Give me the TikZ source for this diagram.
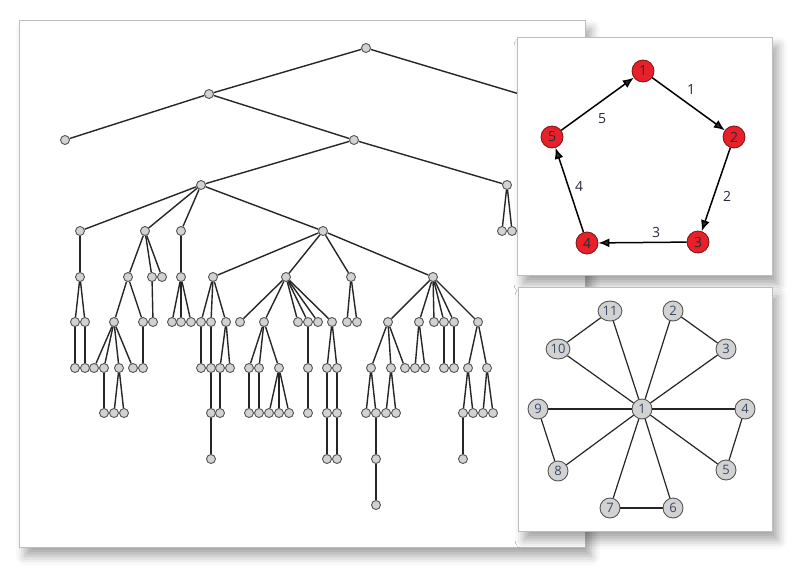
\documentclass[tikz,border=0pt]{standalone}
\usepackage{fontspec}
\newfontfamily\uifont{Open Sans}
\usetikzlibrary{arrows.meta,shadows.blur,shapes.geometric}
\definecolor{nodegray}{HTML}{D2D2D2}
\definecolor{nodeborder}{HTML}{555555}
\definecolor{panelborder}{HTML}{BDBDBD}
\definecolor{redfill}{HTML}{E8202A}
\definecolor{redborder}{HTML}{7A1414}
\definecolor{labeltext}{HTML}{2A2A3A}
\definecolor{startext}{HTML}{3A4A66}
\tikzset{
  panel/.style={draw=panelborder, line width=1pt, fill=white,
    blur shadow={shadow xshift=6pt, shadow yshift=-9pt, shadow blur radius=9pt, shadow opacity=35}},
  tn/.style={circle, draw=nodeborder, fill=nodegray, line width=0.9pt, minimum size=9pt, inner sep=0pt},
  tedge/.style={draw=black!85, line width=1.4pt},
  rednode/.style={circle, draw=redborder, fill=redfill, line width=0.8pt, minimum size=22pt, inner sep=0pt,
    font=\uifont\fontsize{14}{14}\selectfont, text=labeltext},
  arr/.style={line width=1.5pt, -{Latex[length=11pt,width=9pt]}},
  elabel/.style={font=\uifont\fontsize{14}{14}\selectfont, text=labeltext, inner sep=0pt},
  snode/.style={ellipse, draw=nodeborder, fill=nodegray, line width=0.9pt, minimum height=20pt, minimum width=20pt, inner sep=1pt,
    font=\uifont\fontsize{13}{13}\selectfont, text=startext},
  sedge/.style={line width=1.2pt, draw=black!85}
}
\begin{document}
\begin{tikzpicture}[x=1pt,y=-1pt]
\useasboundingbox (0,0) rectangle (800,573);
% main panel
\path[panel] (19,20) rectangle (585,547);
% tree nodes
\foreach \n/\x/\y in {
 r/366/48, a/209/94, ah/526/96, b/65/140, c/354/140, d/201/185, e/507/185,
 e1/502/231, e2/512/231, f1/80/231, f2/145/231, f3/181/231, f4/323/231,
 g1/80/277, h1/75/322, h2/85/322, i1/75/368, i2/85/368,
 g2/128/277, g3/152/277, g4/162/277, h3/114/322, h4/143/322,
 i3/94/368, i4/104/368, i5/119/368, i6/133/368, j1/104/413, j2/114/413, j3/124/413,
 i7/143/368, h5/153/322,
 g5/181/277, h6/172/322, h7/181/322, h8/191/322,
 g6/213/277, g7/286/277, g8/351/277, g9/433/277,
 h9/201/322, h10/211/322, h11/226/322, i8/201/368, i9/211/368, i10/220/368, i11/230/368,
 j4/211/413, j5/220/413, k1/211/459,
 h12/240/322, h13/264/322, h14/298/322, h15/308/322, h16/318/322, h17/332/322,
 i12/249/368, i13/259/368, i14/279/368, j6/249/413, j7/259/413, j8/269/413, j9/279/413, j10/289/413,
 i15/308/368, j11/308/413, i16/327/368, i17/337/368, j12/327/413, k2/327/459, j13/337/413, k3/337/459,
 h18/347/322, h19/357/322,
 h20/388/322, h21/419/322, h22/434/322, h23/444/322, h24/454/322, h25/478/322,
 i18/371/368, i19/391/368, i20/405/368, j14/366/413, j15/376/413, k4/376/459, l1/376/505,
 j16/386/413, j17/396/413, i21/415/368, i22/425/368, i23/444/368, i24/454/368,
 i25/468/368, i26/487/368, j18/463/413, j19/473/413, k5/463/459, j20/483/413, j21/493/413}
 \node[tn] (\n) at (\x,\y) {};
% tree edges
\foreach \p/\q in {
 r/a, r/ah, a/b, a/c, c/d, c/e, e/e1, e/e2, d/f1, d/f2, d/f3, d/f4,
 f1/g1, g1/h1, g1/h2, h1/i1, h2/i2,
 f2/g2, f2/g3, f2/g4, g2/h3, g2/h4, h3/i3, h3/i4, h3/i5, h3/i6, i4/j1, i5/j2, i5/j3,
 h4/i7, g3/h5,
 f3/g5, g5/h6, g5/h7, g5/h8,
 f4/g6, f4/g7, f4/g8, f4/g9,
 g6/h9, g6/h10, g6/h11, h9/i8, h10/i9, h11/i10, h11/i11, i9/j4, i10/j5, j4/k1,
 g7/h12, g7/h13, g7/h14, g7/h15, g7/h16, g7/h17,
 h13/i12, h13/i13, h13/i14, i12/j6, i13/j7, i14/j8, i14/j9, i14/j10,
 h15/i15, i15/j11, h17/i16, h17/i17, i16/j12, j12/k2, i17/j13, j13/k3,
 g8/h18, g8/h19,
 g9/h20, g9/h21, g9/h22, g9/h23, g9/h24, g9/h25,
 h20/i18, h20/i19, h20/i20, i18/j14, i18/j15, j15/k4, k4/l1, i19/j16, i19/j17,
 h21/i21, h21/i22, h23/i23, h24/i24,
 h25/i25, h25/i26, i25/j18, i25/j19, j18/k5, i26/j20, i26/j21}
 \draw[tedge] (\p) -- (\q);
% panel 1: directed pentagon
\path[panel] (517,37) rectangle (772,275);
\node[rednode] (p1) at (643,71) {1};
\node[rednode] (p2) at (734,137) {2};
\node[rednode] (p3) at (698,242) {3};
\node[rednode] (p4) at (587,243) {4};
\node[rednode] (p5) at (552,137) {5};
\draw[arr] (p1) -- (p2) node[elabel] at (691,90) {1};
\draw[arr] (p2) -- (p3) node[elabel] at (727,196) {2};
\draw[arr] (p3) -- (p4) node[elabel] at (656,232) {3};
\draw[arr] (p4) -- (p5) node[elabel] at (579,186) {4};
\draw[arr] (p5) -- (p1) node[elabel] at (602,119) {5};
% panel 2: star graph
\path[panel] (518,287) rectangle (772,531);
\node[snode] (s1) at (642,409) {1};
\node[snode] (s2) at (673,311) {2};
\node[snode] (s3) at (726,349) {3};
\node[snode] (s4) at (745,409) {4};
\node[snode] (s5) at (726,470) {5};
\node[snode] (s6) at (673,508) {6};
\node[snode] (s7) at (610,508) {7};
\node[snode] (s8) at (558,471) {8};
\node[snode] (s9) at (538,409) {9};
\node[snode] (s10) at (558,349) {10};
\node[snode] (s11) at (610,311) {11};
\foreach \q in {2,...,11} \draw[sedge] (s1) -- (s\q);
\draw[sedge] (s2) -- (s3);
\draw[sedge] (s4) -- (s5);
\draw[sedge, line width=2pt] (s6) -- (s7);
\draw[sedge] (s8) -- (s9);
\draw[sedge] (s10) -- (s11);
\end{tikzpicture}
\end{document}
